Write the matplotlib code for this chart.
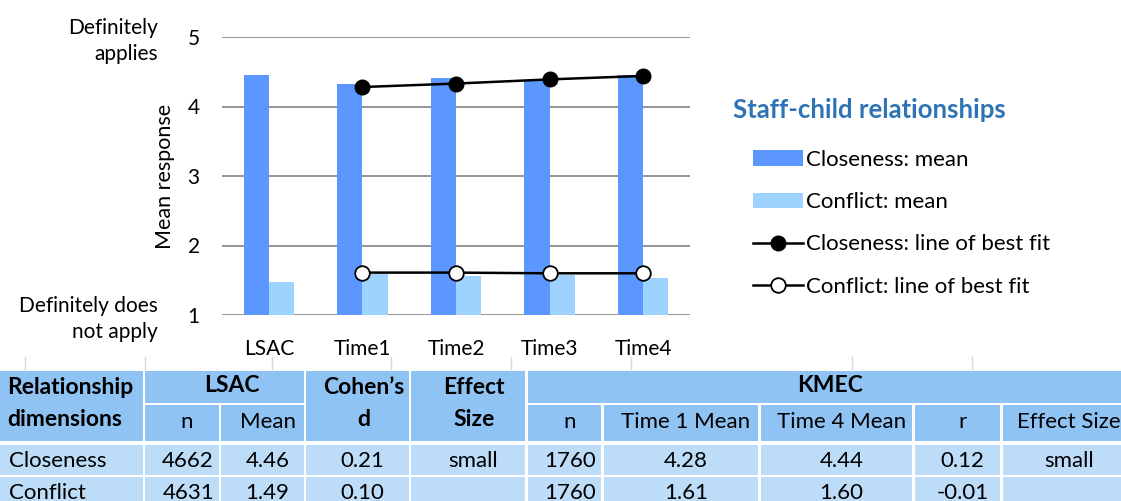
import matplotlib.pyplot as plt
from matplotlib.patches import Rectangle
from matplotlib.lines import Line2D
from matplotlib.transforms import blended_transform_factory
import numpy as np

plt.rcParams['font.family'] = ['Lato', 'DejaVu Sans']

# chart data
categories = ['LSAC', 'Time1', 'Time2', 'Time3', 'Time4']
closeness_mean = [4.46, 4.33, 4.41, 4.37, 4.46]
conflict_mean = [1.48, 1.59, 1.56, 1.57, 1.53]
fit_categories = ['Time1', 'Time2', 'Time3', 'Time4']
closeness_fit = [4.28, 4.33, 4.39, 4.44]
conflict_fit = [1.61, 1.61, 1.60, 1.60]

# table data
row_names = ['Closeness', 'Conflict']
lsac_n = ['4662', '4631']
lsac_mean = ['4.46', '1.49']
cohens_d = ['0.21', '0.10']
lsac_effect = ['small', '']
kmec_n = ['1760', '1760']
kmec_t1_mean = ['4.28', '1.61']
kmec_t4_mean = ['4.44', '1.60']
kmec_r = ['0.12', '-0.01']
kmec_effect = ['small', '']

W, H = 1121, 501
fig = plt.figure(figsize=(W / 100, H / 100), dpi=100)

BLUE = '#5b97ff'
LIGHT = '#9fd3ff'
GRID = '#8c8c8c'

# --- chart ---
ax = fig.add_axes([222 / W, 1 - 315 / H, 468 / W, 278 / H])
x = np.arange(len(categories))
w = 0.27
bars_close = ax.bar(x - w / 2, closeness_mean, w, color=BLUE, label='Closeness: mean', zorder=2)
bars_conf = ax.bar(x + w / 2, conflict_mean, w, color=LIGHT, label='Conflict: mean', zorder=2)

fx = [categories.index(c) for c in fit_categories]
line_close, = ax.plot(fx, closeness_fit, color='black', lw=1.8, marker='o', ms=10.5,
                      mfc='black', mec='black', label='Closeness: line of best fit', zorder=3)
line_conf, = ax.plot(fx, conflict_fit, color='black', lw=1.8, marker='o', ms=10.5,
                     mfc='white', mec='black', mew=1.3, label='Conflict: line of best fit', zorder=3)

ax.set_xlim(-0.5, len(categories) - 0.5)
ax.set_ylim(1, 5)
ax.set_yticks([1, 2, 3, 4, 5])
ax.set_xticks(x)
ax.set_xticklabels(categories)
ax.yaxis.grid(True, color=GRID, lw=1.3, zorder=0)
ax.set_axisbelow(True)
for s in ['top', 'right', 'left', 'bottom']:
    ax.spines[s].set_visible(False)
ax.tick_params(axis='y', length=0, pad=16, labelsize=15)
ax.tick_params(axis='x', length=0, pad=17, labelsize=15)
ax.set_ylabel('Mean response', fontsize=15.5)
ax.yaxis.set_label_coords(-0.1, 0.5)

tr = blended_transform_factory(ax.transAxes, ax.transData)
ax.text(-0.137, 4.94, 'Definitely\napplies', transform=tr, ha='right', va='center',
        fontsize=15, linespacing=1.4)
ax.text(-0.137, 0.94, 'Definitely does\nnot apply', transform=tr, ha='right', va='center',
        fontsize=15, linespacing=1.4)

# legend: title placed on its own, entries indented below it
fig.text(733 / W, 1 - 110 / H, 'Staff-child relationships', ha='left', va='center',
         fontsize=18.5, fontweight='bold', color='#2e74b5')
leg = fig.legend(handles=[bars_close, bars_conf, line_close, line_conf],
                 loc='upper left', bbox_to_anchor=(753 / W, 1 - 150 / H), frameon=False,
                 fontsize=16, handlelength=2.25, handletextpad=0.15,
                 labelspacing=1.0, borderaxespad=0, borderpad=0)

# --- decorative cell borders between chart and table ---
for px in [25, 145, 272, 391, 511, 631, 852, 972]:
    fig.add_artist(Line2D([px / W, px / W], [1 - 357 / H, 1 - 369 / H], color='#d9d9d9', lw=1))

# --- table ---
HEAD = '#8fc3f3'
BODY = '#bddcf8'


def cell(x0, x1, y0, y1, color):
    fig.add_artist(Rectangle((x0 / W, 1 - y1 / H), (x1 - x0) / W, (y1 - y0) / H,
                             transform=fig.transFigure, facecolor=color, edgecolor='none'))


def txt(xp, yp, s, ha='center', bold=False):
    fig.text(xp / W, 1 - yp / H, s, ha=ha, va='center',
             fontsize=16.5 if bold else 16,
             fontweight='bold' if bold else 'normal')


cols = [(0, 143), (145, 219), (221, 304), (306, 409), (411, 525),
        (528, 601), (604, 758), (761, 912), (915, 1000), (1003, 1125)]

# header
cell(0, 143, 371, 441, HEAD)
cell(145, 304, 371, 403, HEAD)
cell(306, 409, 371, 441, HEAD)
cell(411, 525, 371, 441, HEAD)
cell(528, 1125, 371, 403, HEAD)
for i in [1, 2, 5, 6, 7, 8, 9]:
    cell(cols[i][0], cols[i][1], 405, 441, HEAD)

txt(7, 387, 'Relationship', ha='left', bold=True)
txt(7, 420, 'dimensions', ha='left', bold=True)
txt(232, 386, 'LSAC', bold=True)
txt(364, 387, 'Cohen\u2019s', bold=True)
txt(364, 420, 'd', bold=True)
txt(474, 387, 'Effect', bold=True)
txt(474, 420, 'Size', bold=True)
txt(830, 386, 'KMEC', bold=True)
sub_heads = {1: 'n', 2: 'Mean', 5: 'n', 6: 'Time 1 Mean', 7: 'Time 4 Mean', 8: 'r', 9: 'Effect Size'}
for i, s in sub_heads.items():
    c = (cols[i][0] + cols[i][1]) / 2 + 5
    if i == 9:
        c = 1069
    txt(c, 422, s)

# body
row_y = [(445, 475), (477, 507)]
columns = [lsac_n, lsac_mean, cohens_d, lsac_effect, kmec_n, kmec_t1_mean,
           kmec_t4_mean, kmec_r, kmec_effect]
for r, (y0, y1) in enumerate(row_y):
    for (x0, x1) in cols:
        cell(x0, x1, y0, y1, BODY)
    yc = y0 + 16
    txt(9, yc, row_names[r], ha='left')
    for j, col in enumerate(columns):
        i = j + 1
        x0, x1 = cols[i]
        if i in (1, 5):
            txt(x1 - 5, yc, col[r], ha='right')
        else:
            txt((x0 + x1) / 2 + 5, yc, col[r])

fig.savefig('out.png', dpi=100)
